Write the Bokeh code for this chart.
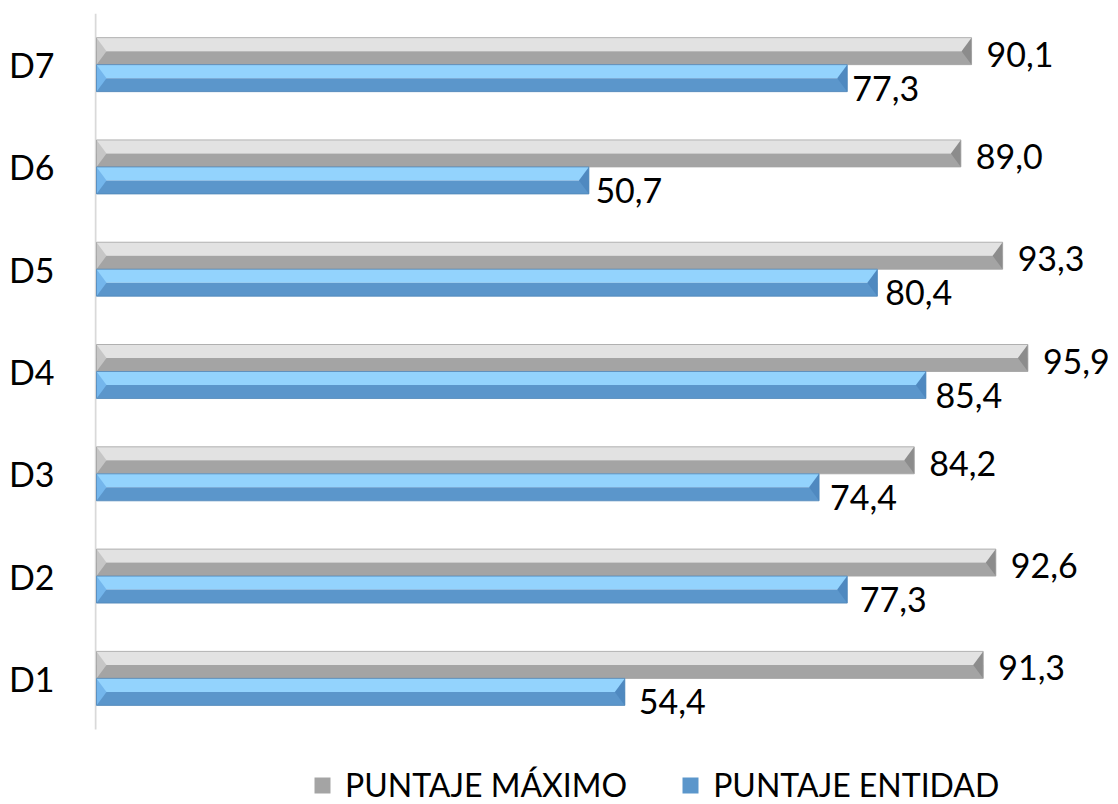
import numpy as np
from bokeh.plotting import figure
from bokeh.models import ColumnDataSource, Range1d, FixedTicker, Legend, LegendItem
from bokeh.core.properties import value
from bokeh.embed import file_html
from bokeh.resources import INLINE

# ---- data ----
categories = ["D1", "D2", "D3", "D4", "D5", "D6", "D7"]
puntaje_maximo = [91.3, 92.6, 84.2, 95.9, 93.3, 89.0, 90.1]
puntaje_entidad = [54.4, 77.3, 74.4, 85.4, 80.4, 50.7, 77.3]
series_names = ["PUNTAJE MÁXIMO", "PUNTAJE ENTIDAD"]

def fmt(v):
    return f"{v:.1f}".replace(".", ",")

# ---- layout / style ----
W, H = 1118, 804
FRAME_LEFT = 94
ZERO_PX = 96            # pixel where value 0 lies
PX_PER_UNIT = 9.712     # horizontal pixels per value unit
AXIS_TOP = 13           # top of the category area
CAT_PX = 102.29         # pixels per category
n = len(categories)

x_start = -(ZERO_PX - FRAME_LEFT) / PX_PER_UNIT
x_end = (W - ZERO_PX) / PX_PER_UNIT
y_top = n - 0.5
y_bottom = y_top - (H - AXIS_TOP) / CAT_PX

FONT = "Lato"
FS = "34px"
BAR_H = 0.264
BEVEL = 10 / PX_PER_UNIT

idx = np.arange(n)

p = figure(width=W, height=H, x_range=Range1d(x_start, x_end),
           y_range=Range1d(y_bottom, y_top),
           output_backend="svg", toolbar_location=None,
           x_axis_location=None,
           min_border_left=FRAME_LEFT, min_border_right=0,
           min_border_top=AXIS_TOP, min_border_bottom=0)
p.grid.visible = False
p.outline_line_color = None
p.background_fill_color = "white"
p.border_fill_color = "white"

yax = p.yaxis[0]
yax.ticker = FixedTicker(ticks=list(idx))
yax.major_label_overrides = {int(i): c for i, c in zip(idx, categories)}
yax.axis_line_color = None
yax.major_tick_line_color = None
yax.minor_tick_line_color = None
yax.major_label_standoff = 34
yax.major_label_text_font = FONT
yax.major_label_text_font_size = FS
yax.major_label_text_color = "black"

# vertical axis line spanning the category area only
p.segment(x0=[-1 / PX_PER_UNIT], y0=[-0.5], x1=[-1 / PX_PER_UNIT], y1=[n - 0.5],
          line_color="#d9d9d9", line_width=2)


def bevel_bar(vals, y0, y1, light, dark, left_c, right_c, edge):
    mid = (y0 + y1) / 2
    src_l = ColumnDataSource(dict(r=vals, b=mid, t=y1))
    src_d = ColumnDataSource(dict(r=vals, b=y0, t=mid))
    p.quad(left=0, right="r", bottom="b", top="t", source=src_l,
           fill_color=light, line_color=None)
    rd = p.quad(left=0, right="r", bottom="b", top="t", source=src_d,
                fill_color=dark, line_color=None)
    lxs = [[0, 0, BEVEL] for _ in vals]
    lys = [[a, b, c] for a, b, c in zip(y1, y0, mid)]
    rxs = [[v, v, v - BEVEL] for v in vals]
    p.patches(xs=lxs, ys=lys, fill_color=left_c, line_color=None)
    p.patches(xs=rxs, ys=lys, fill_color=right_c, line_color=None)
    p.quad(left=0, right=vals, bottom=y0, top=y1, fill_color=None,
           line_color=edge, line_width=1, line_alpha=0.8)
    return rd


r_max = bevel_bar(list(puntaje_maximo), idx + 0.0, idx + BAR_H,
                  "#e2e2e2", "#a4a4a4", "#c6c6c6", "#8c8c8c", "#a0a0a0")
r_ent = bevel_bar(list(puntaje_entidad), idx - BAR_H, idx + 0.0,
                  "#93d3fd", "#5b96cb", "#74b6ec", "#4f89c0", "#4f86b8")

# value labels
src_tm = ColumnDataSource(dict(x=puntaje_maximo, y=idx + BAR_H / 2,
                               t=[fmt(v) for v in puntaje_maximo]))
p.text(x="x", y="y", text="t", source=src_tm, x_offset=15, y_offset=3,
       text_baseline="middle", text_align="left",
       text_font=value(FONT), text_font_size=FS, text_color="black")

blue_dx = [14 - 1.5 * i for i in idx]
src_te = ColumnDataSource(dict(x=puntaje_entidad, y=idx - BAR_H / 2,
                               t=[fmt(v) for v in puntaje_entidad],
                               dx=blue_dx))
p.text(x="x", y="y", text="t", source=src_te, x_offset="dx", y_offset=10,
       text_baseline="middle", text_align="left",
       text_font=value(FONT), text_font_size=FS, text_color="black")

legend = Legend(items=[LegendItem(label=series_names[0], renderers=[r_max]),
                       LegendItem(label=series_names[1], renderers=[r_ent])],
                orientation="horizontal", location=(218, 0),
                glyph_width=20, glyph_height=20, label_standoff=13,
                spacing=53, padding=0, margin=0,
                border_line_color=None, background_fill_alpha=0,
                label_text_font=FONT, label_text_font_size="32px",
                label_text_color="black")
p.add_layout(legend)

open("out.html", "w").write(file_html(p, INLINE))
